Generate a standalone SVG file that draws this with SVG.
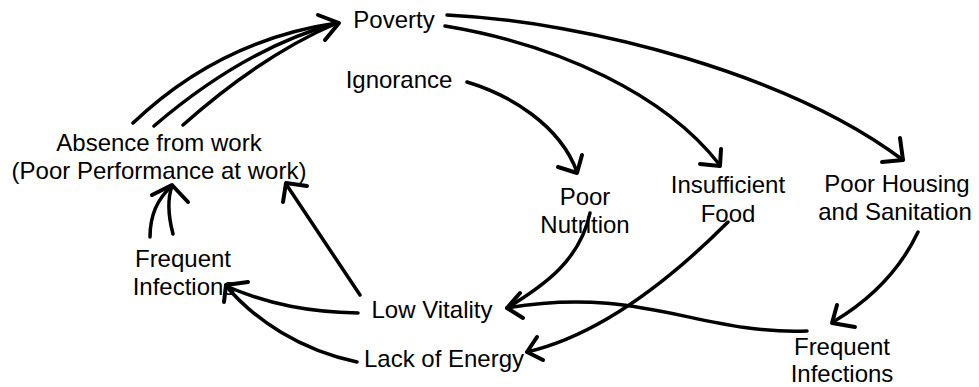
<svg xmlns="http://www.w3.org/2000/svg" width="979" height="387" viewBox="0 0 979 387">
<style>
.lbl{font-family:"Liberation Sans",Arial,sans-serif;font-size:24px;fill:#000;text-anchor:middle}
.c{fill:none;stroke:#000;stroke-width:3.5;stroke-linecap:round;stroke-linejoin:round}
.h{fill:none;stroke:#000;stroke-width:4;stroke-linecap:round;stroke-linejoin:round}
</style>
<rect width="979" height="387" fill="#fff"/>
<g id="connectors">
  <path class="c" d="M133,123 Q220,40 337,23"/>
  <path class="c" d="M154,126 Q245,48 337,23"/>
  <path class="c" d="M183,125 Q262,55 337,23"/>
  <path class="h" d="M318,15 L339,23 L325,40"/>
  <path class="c" d="M447,15 C590,22 790,75 903,160"/>
  <path class="h" d="M882,162 L903,160 L900,138"/>
  <path class="c" d="M445,26 C560,45 665,95 719,164"/>
  <path class="h" d="M700,164 L720,166 L721,149"/>
  <path class="c" d="M467,82 C510,95 560,125 577,172"/>
  <path class="h" d="M558,167 L577,173 L582,155"/>
  <path class="c" d="M590,213 C580,260 545,285 507,308"/>
  <path class="c" d="M807,331 C700,335 640,285 507,308"/>
  <path class="h" d="M520,293 L507,308 L523,318"/>
  <path class="c" d="M728,222 C670,280 600,335 527,352"/>
  <path class="h" d="M537,337 L527,352 L543,360"/>
  <path class="c" d="M918,232 C900,270 870,300 833,322"/>
  <path class="h" d="M837,305 L832,323 L855,327"/>
  <path class="c" d="M360,295 L286,184"/>
  <path class="h" d="M283,202 L286,183 L307,186"/>
  <path class="c" d="M358,313 C310,312 270,305 226,286"/>
  <path class="c" d="M357,362 C300,350 255,320 226,286"/>
  <path class="h" d="M248,282 L226,285 L224,302"/>
  <path class="c" d="M150,237 C150,215 158,198 172,186"/>
  <path class="c" d="M173,234 C168,215 167,200 172,186"/>
  <path class="h" d="M152,195 L172,185 L188,202"/>
</g>
<g id="poverty"><text class="lbl" x="394" y="28">Poverty</text></g>
<g id="ignorance"><text class="lbl" x="399" y="88">Ignorance</text></g>
<g id="absence"><text class="lbl" x="159" y="151">Absence from work</text><text class="lbl" x="159" y="179">(Poor Performance at work)</text></g>
<g id="infections-left"><text class="lbl" x="183" y="267">Frequent</text><text class="lbl" x="184" y="295">Infections</text></g>
<g id="poor-nutrition"><text class="lbl" x="585" y="205">Poor</text><text class="lbl" x="585" y="233">Nutrition</text></g>
<g id="insufficient-food"><text class="lbl" x="728" y="193">Insufficient</text><text class="lbl" x="728" y="222">Food</text></g>
<g id="poor-housing"><text class="lbl" x="897" y="192">Poor Housing</text><text class="lbl" x="895" y="220">and Sanitation</text></g>
<g id="low-vitality"><text class="lbl" x="432" y="318">Low Vitality</text></g>
<g id="lack-energy"><text class="lbl" x="444" y="367">Lack of Energy</text></g>
<g id="infections-right"><text class="lbl" x="842" y="355">Frequent</text><text class="lbl" x="842" y="382">Infections</text></g>
</svg>
